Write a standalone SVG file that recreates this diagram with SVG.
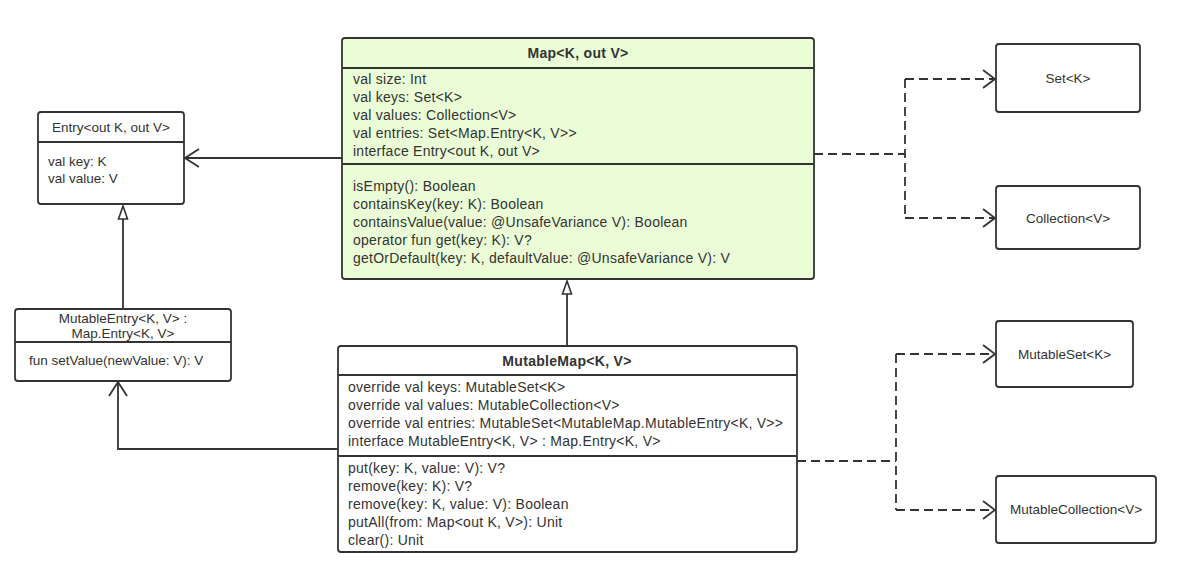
<svg xmlns="http://www.w3.org/2000/svg" width="1178" height="573" viewBox="0 0 1178 573">
<defs>
<marker id="open" viewBox="0 0 16 20" refX="15" refY="10" markerWidth="16" markerHeight="20" markerUnits="userSpaceOnUse" orient="auto">
<path d="M1,1 L15,10 L1,19" fill="none" stroke="#333" stroke-width="1.8"/>
</marker>
<marker id="dopen" viewBox="0 0 14 20" refX="13" refY="10" markerWidth="14" markerHeight="20" markerUnits="userSpaceOnUse" orient="auto">
<path d="M1,1 L13,10 L1,19" fill="none" stroke="#333" stroke-width="1.8"/>
</marker>
<marker id="tri" viewBox="0 0 15 12" refX="14" refY="6" markerWidth="15" markerHeight="12" markerUnits="userSpaceOnUse" orient="auto">
<path d="M1,1.5 L14,6 L1,10.5 Z" fill="#fff" stroke="#333" stroke-width="1.6"/>
</marker>
</defs>
<style>
.box{fill:#fff;stroke:#333;stroke-width:1.8}
.map{fill:#ebfdd7}
.sep{stroke:#333;stroke-width:1.8}
text{font-family:"Liberation Sans",Arial,sans-serif;fill:#333;font-size:14px;letter-spacing:0.25px}
.t{text-anchor:middle;font-weight:bold;letter-spacing:0.3px}
.s{font-size:13.5px;letter-spacing:0}
.c{text-anchor:middle}
.ln{fill:none;stroke:#333;stroke-width:1.8}
.dash{stroke-dasharray:9 5}
</style>
<rect width="1178" height="573" fill="#fff"/>
<g id="connectors">
<path class="ln" d="M342,158 H185" marker-end="url(#open)"/>
<path class="ln" d="M123,309 V206" marker-end="url(#tri)"/>
<path class="ln" d="M567,346 V281" marker-end="url(#tri)"/>
<path class="ln" d="M338,449 H118 V382" marker-end="url(#open)"/>
<path class="ln dash" d="M814,154 H905"/>
<path class="ln dash" d="M905,79 V218"/>
<path class="ln dash" d="M905,79 H995" marker-end="url(#dopen)"/>
<path class="ln dash" d="M905,218 H995" marker-end="url(#dopen)"/>
<path class="ln dash" d="M797,461 H896"/>
<path class="ln dash" d="M896,354 V510"/>
<path class="ln dash" d="M896,354 H995" marker-end="url(#dopen)"/>
<path class="ln dash" d="M896,510 H995" marker-end="url(#dopen)"/>
</g>
<g id="map">
<rect class="box map" x="342" y="38" width="472" height="241" rx="3"/>
<line class="sep" x1="342" y1="68" x2="814" y2="68"/>
<line class="sep" x1="342" y1="164" x2="814" y2="164"/>
<text class="t" x="578" y="58">Map&lt;K, out V&gt;</text>
<text x="353" y="84">val size: Int</text>
<text x="353" y="102">val keys: Set&lt;K&gt;</text>
<text x="353" y="120">val values: Collection&lt;V&gt;</text>
<text x="353" y="138">val entries: Set&lt;Map.Entry&lt;K, V&gt;&gt;</text>
<text x="353" y="156">interface Entry&lt;out K, out V&gt;</text>
<text x="353" y="191">isEmpty(): Boolean</text>
<text x="353" y="209">containsKey(key: K): Boolean</text>
<text x="353" y="227">containsValue(value: @UnsafeVariance V): Boolean</text>
<text x="353" y="245">operator fun get(key: K): V?</text>
<text x="353" y="263">getOrDefault(key: K, defaultValue: @UnsafeVariance V): V</text>
</g>
<g id="entry">
<rect class="box" x="38" y="112" width="146" height="92" rx="3"/>
<line class="sep" x1="38" y1="142" x2="184" y2="142"/>
<text class="s c" x="111" y="132">Entry&lt;out K, out V&gt;</text>
<text class="s" x="48" y="166">val key: K</text>
<text class="s" x="48" y="183">val value: V</text>
</g>
<g id="mutableEntry">
<rect class="box" x="15" y="309" width="216" height="72" rx="3"/>
<line class="sep" x1="15" y1="342" x2="231" y2="342"/>
<text class="s c" x="123" y="323">MutableEntry&lt;K, V&gt; :</text>
<text class="s c" x="123" y="338">Map.Entry&lt;K, V&gt;</text>
<text class="s" x="29" y="365">fun setValue(newValue: V): V</text>
</g>
<g id="mutableMap">
<rect class="box" x="338" y="346" width="459" height="206" rx="3"/>
<line class="sep" x1="338" y1="375" x2="797" y2="375"/>
<line class="sep" x1="338" y1="456" x2="797" y2="456"/>
<text class="t" x="567" y="366">MutableMap&lt;K, V&gt;</text>
<text x="348" y="392">override val keys: MutableSet&lt;K&gt;</text>
<text x="348" y="410">override val values: MutableCollection&lt;V&gt;</text>
<text x="348" y="428">override val entries: MutableSet&lt;MutableMap.MutableEntry&lt;K, V&gt;&gt;</text>
<text x="348" y="446">interface MutableEntry&lt;K, V&gt; : Map.Entry&lt;K, V&gt;</text>
<text x="348" y="473">put(key: K, value: V): V?</text>
<text x="348" y="491">remove(key: K): V?</text>
<text x="348" y="509">remove(key: K, value: V): Boolean</text>
<text x="348" y="527">putAll(from: Map&lt;out K, V&gt;): Unit</text>
<text x="348" y="545">clear(): Unit</text>
</g>
<g id="set">
<rect class="box" x="996" y="44" width="144" height="68" rx="3"/>
<text class="s c" x="1068" y="83">Set&lt;K&gt;</text>
</g>
<g id="collection">
<rect class="box" x="996" y="186" width="144" height="63" rx="3"/>
<text class="s c" x="1068" y="223">Collection&lt;V&gt;</text>
</g>
<g id="mutableSet">
<rect class="box" x="996" y="321" width="137" height="66" rx="3"/>
<text class="s c" x="1064.5" y="359">MutableSet&lt;K&gt;</text>
</g>
<g id="mutableCollection">
<rect class="box" x="996" y="476" width="160" height="67" rx="3"/>
<text class="s c" x="1076" y="514">MutableCollection&lt;V&gt;</text>
</g>
</svg>
